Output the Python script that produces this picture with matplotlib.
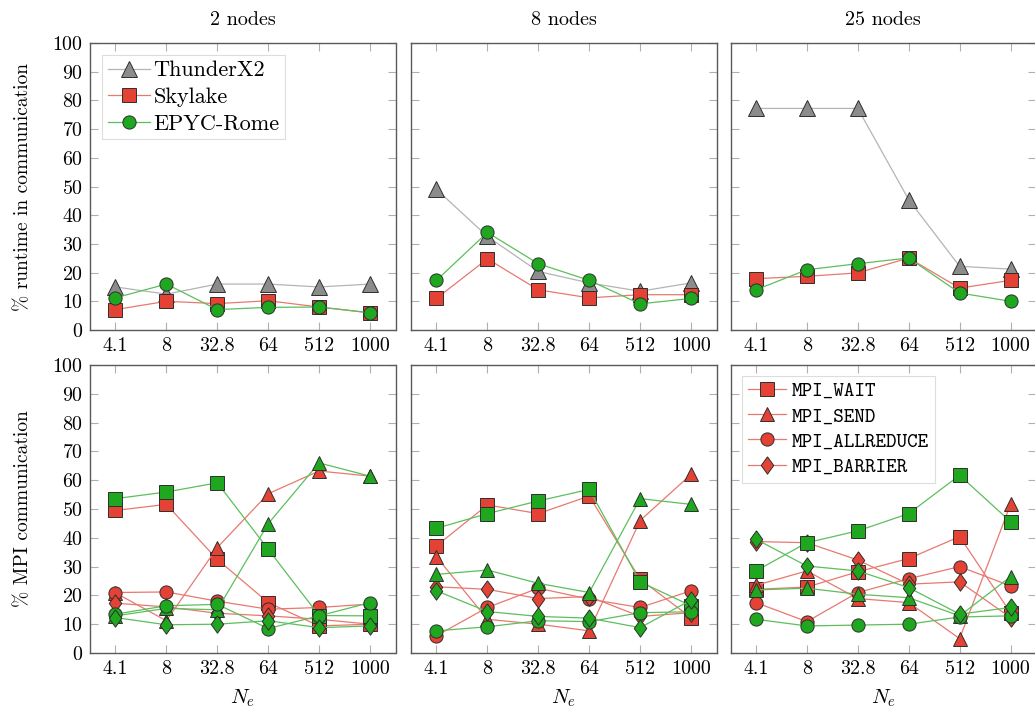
import matplotlib
matplotlib.use("Agg")
import matplotlib.pyplot as plt
import numpy as np

plt.rcParams['font.family'] = ['cmr10', 'DejaVu Serif']
plt.rcParams['mathtext.fontset'] = 'cm'
plt.rcParams['axes.formatter.use_mathtext'] = True
plt.rcParams['font.size'] = 13

# problem sizes (N_e) and node counts
ne_labels = ['4.1', '8', '32.8', '64', '512', '1000']
nodes = ['2 nodes', '8 nodes', '25 nodes']

# % runtime spent in communication, per node count
thunderx2 = [
    [15, 12.5, 16, 16, 15, 16],
    [49, 32.6, 20.4, 16.4, 13.5, 16.4],
    [77.2, 77.2, 77.2, 45.4, 22.2, 21.2],
]
skylake = [
    [7.1, 10, 9.2, 10.2, 8, 6],
    [11, 24.8, 14, 11.2, 12.3, 12.3],
    [17.9, 18.7, 19.9, 25.1, 14.6, 17.3],
]
epyc = [
    [11.2, 16, 7.1, 7.9, 8, 6],
    [17.3, 34, 23.1, 17.3, 9.1, 11],
    [14, 21, 23.1, 25.1, 12.9, 10],
]

# % of MPI time per call, Skylake
sky_wait = [
    [49.5, 51.6, 32.5, 17.5, 9.4, 10],
    [37.2, 51.4, 48.4, 54.5, 25.6, 12.3],
    [22.1, 22.9, 28.2, 32.8, 40.4, 14],
]
sky_send = [
    [20.9, 11.2, 36.6, 55.3, 63.2, 61.4],
    [33.4, 11.7, 10, 7.7, 46, 62],
    [23.5, 28.5, 18.9, 17.5, 5, 51.6],
]
sky_allreduce = [
    [21, 21.2, 18, 15.2, 15.8, 17],
    [6, 15.8, 22.5, 18.7, 15.8, 21.6],
    [17.5, 10.9, 21, 25.8, 30, 23.3],
]
sky_barrier = [
    [17.3, 16, 13.8, 12.9, 11.7, 10],
    [23, 22.1, 18.9, 19.6, 12.7, 14],
    [38.7, 38.3, 32.3, 23.9, 24.7, 12.3],
]

# % of MPI time per call, EPYC-Rome
epyc_wait = [
    [53.6, 55.9, 59.1, 36.0, 13, 12.9],
    [43.3, 48.4, 52.8, 56.8, 24.7, 16.4],
    [28.5, 38.3, 42.4, 48.4, 61.7, 45.6],
]
epyc_send = [
    [12.9, 15.5, 15, 44.9, 66, 61.4],
    [27.3, 28.8, 24.2, 21, 53.6, 51.6],
    [21.9, 22.5, 20.4, 19.2, 12.9, 26.5],
]
epyc_allreduce = [
    [13.5, 16.4, 16.9, 8.5, 12.9, 17.5],
    [7.7, 9.1, 11.2, 10.9, 14, 14.3],
    [11.7, 9.4, 9.7, 10, 12.5, 12.9],
]
epyc_barrier = [
    [12.3, 9.8, 10, 11.2, 8.8, 9.4],
    [21.6, 14.4, 12.7, 12.1, 8.8, 18.4],
    [39.5, 30.2, 28.5, 22.7, 13.5, 15.8],
]

grey_fill, grey_line = '#8c8c8c', '#b4b4b4'
red_fill, red_line = '#e34234', '#e8796f'
green_fill, green_line = '#1fa81f', '#5cbf5c'
edge = '#2e2e2e'

# a slightly wider diamond than matplotlib's 'd'
diamond = [(0, 1), (0.72, 0), (0, -1), (-0.72, 0), (0, 1)]


def style_axes(ax, show_y):
    ax.set_xlim(-0.5, 5.5)
    ax.set_ylim(0, 100)
    ax.set_xticks(np.arange(len(ne_labels)))
    ax.set_xticklabels(ne_labels)
    ax.set_yticks(np.arange(0, 101, 10))
    ax.tick_params(direction='in', length=6, width=0.8, color='#b0b0b0',
                   top=True, right=True, labelsize=14.4, pad=5)
    if not show_y:
        ax.set_yticklabels([])
    for s in ax.spines.values():
        s.set_color('#5a5a5a')
        s.set_linewidth(1.0)


def series(ax, y, marker, fill, line, ms=9.5, label=None):
    ax.plot(np.arange(len(y)), y, color=line, lw=0.9, marker=marker, ms=ms,
            markerfacecolor=fill, markeredgecolor=edge, markeredgewidth=0.7,
            label=label)


def frame(leg):
    leg.get_frame().set_linewidth(0.8)
    leg.get_frame().set_edgecolor('#dddddd')


fig = plt.figure(figsize=(10.35, 7.09), dpi=100)
W, H = 1035, 709
lefts = [90, 411, 730.5]
width = 305.5

for i in range(3):
    # top row: share of runtime in communication
    ax = fig.add_axes([lefts[i] / W, (H - 330) / H, width / W, 287 / H])
    style_axes(ax, i == 0)
    series(ax, thunderx2[i], '^', grey_fill, grey_line, ms=11, label='ThunderX2')
    series(ax, skylake[i], 's', red_fill, red_line, label='Skylake')
    series(ax, epyc[i], 'o', green_fill, green_line, label='EPYC-Rome')
    ax.set_title(nodes[i], fontsize=14.5, pad=13)
    if i == 0:
        ax.set_ylabel('% runtime in communication', fontsize=14, labelpad=14)
        leg = ax.legend(loc='upper left', fontsize=16, fancybox=False,
                        framealpha=1, handlelength=1.9,
                        borderpad=0.25, labelspacing=0.32, handletextpad=0.15,
                        borderaxespad=0.55)
        frame(leg)

    # bottom row: breakdown of MPI time
    bx = fig.add_axes([lefts[i] / W, (H - 653) / H, width / W, 288 / H])
    style_axes(bx, i == 0)
    series(bx, sky_wait[i], 's', red_fill, red_line, label='MPI_WAIT')
    series(bx, sky_send[i], '^', red_fill, red_line, ms=10, label='MPI_SEND')
    series(bx, sky_allreduce[i], 'o', red_fill, red_line, label='MPI_ALLREDUCE')
    series(bx, sky_barrier[i], diamond, red_fill, red_line, ms=12.5, label='MPI_BARRIER')
    series(bx, epyc_wait[i], 's', green_fill, green_line)
    series(bx, epyc_send[i], '^', green_fill, green_line, ms=10)
    series(bx, epyc_allreduce[i], 'o', green_fill, green_line)
    series(bx, epyc_barrier[i], diamond, green_fill, green_line, ms=12.5)
    bx.set_xlabel('$N_e$', fontsize=15, labelpad=7)
    if i == 0:
        bx.set_ylabel('% MPI communication', fontsize=14, labelpad=14)
    if i == 2:
        leg = bx.legend(loc='upper left', fancybox=False, framealpha=1,
                        handlelength=1.9, borderpad=0.3, labelspacing=0.3,
                        handletextpad=0.3, borderaxespad=0.55,
                        prop={'family': ['cmtt10', 'DejaVu Sans Mono'], 'size': 14.5})
        frame(leg)

fig.savefig('out.png', dpi=100)
